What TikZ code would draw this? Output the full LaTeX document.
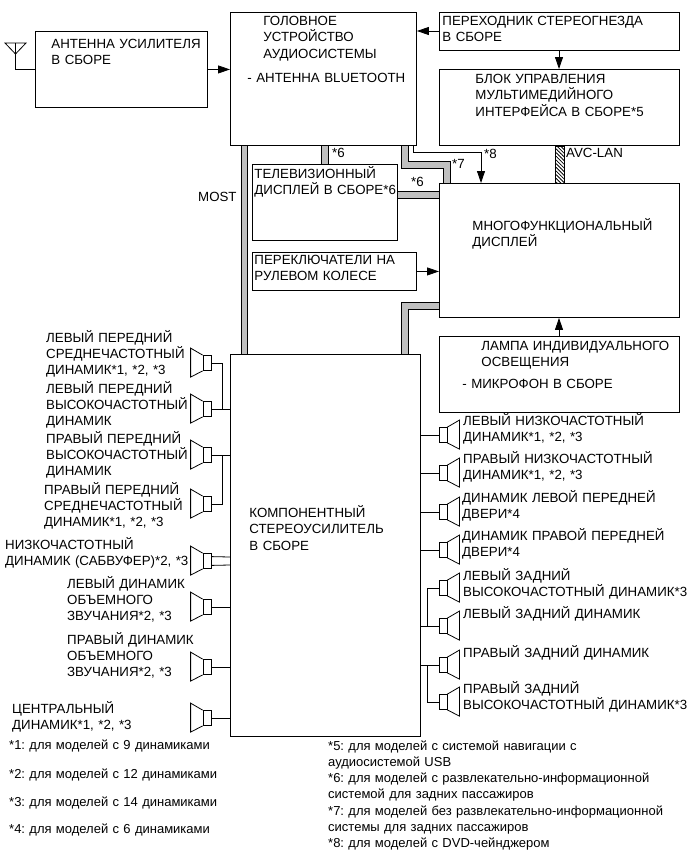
\documentclass[tikz,border=0pt]{standalone}
\usepackage{fontspec}
\setmainfont{Liberation Sans}
\usepackage{tikz}
\usetikzlibrary{arrows.meta, patterns.meta}
\definecolor{BusGray}{HTML}{C0C0C0}
\frenchspacing

\begin{document}
\begin{tikzpicture}[
    x=1pt, y=-1pt,
    font=\fontsize{13.3}{16.4}\selectfont,
    panel/.style n args={4}{draw, line width=0.9pt, anchor=north west, inner sep=0pt, text width=#1pt, text height=#3pt, text depth=#2pt-#3pt, align=left, execute at begin node={\leftskip=#4pt\relax}},
    lbl/.style={anchor=base west, inner sep=0pt, text width=#1pt, align=left},
    note/.style={lbl=#1, font=\fontsize{13}{16.25}\selectfont},
    magnet/.style={draw, line width=0.8pt, minimum width=8pt, minimum height=15pt, inner sep=0pt},
    wire/.style={line width=0.8pt},
    arrow/.style={wire, -{Triangle[length=12pt, width=8pt]}},
    bus/.style={line width=1pt, double=BusGray, double distance=5.5pt},
    avc/.style={draw, line width=0.8pt, pattern={Lines[angle=-45, distance=2.6pt, line width=0.8pt]}}
]
\useasboundingbox (0,0) rectangle (690,854);

% units
\node[panel={172}{76}{17}{16}] (ant) at (35,31) {АНТЕННА УСИЛИТЕЛЯ\\В СБОРЕ};
\node[panel={186}{133}{13}{33}] (head) at (230,12) {ГОЛОВНОЕ\\УСТРОЙСТВО\\АУДИОСИСТЕМЫ\\[8pt]\hspace*{-16pt}- АНТЕННА BLUETOOTH};
\node[panel={240}{38}{13}{3}] (plug) at (439,12) {ПЕРЕХОДНИК СТЕРЕОГНЕЗДА\\В СБОРЕ};
\node[panel={240}{76}{14}{36}] (mmi) at (439,69) {БЛОК УПРАВЛЕНИЯ\\МУЛЬТИМЕДИЙНОГО\\ИНТЕРФЕЙСА В СБОРЕ*5};
\node[panel={145}{76}{14}{2}] (tv) at (252,164) {ТЕЛЕВИЗИОННЫЙ\\ДИСПЛЕЙ В СБОРЕ*6};
\node[panel={164}{38}{12}{2}] (wheel) at (252,252) {ПЕРЕКЛЮЧАТЕЛИ НА\\РУЛЕВОМ КОЛЕСЕ};
\node[panel={240}{134}{47}{33}] (mfd) at (439,183) {МНОГОФУНКЦИОНАЛЬНЫЙ\\ДИСПЛЕЙ};
\node[panel={240}{76}{14}{42}] (lamp) at (439,336) {ЛАМПА ИНДИВИДУАЛЬНОГО\\ОСВЕЩЕНИЯ\\[5pt]\hspace*{-19pt}- МИКРОФОН В СБОРЕ};
\node[panel={190}{382}{163}{19}] (amp) at (230,354) {КОМПОНЕНТНЫЙ\\СТЕРЕОУСИЛИТЕЛЬ\\В СБОРЕ};

% antenna
\node[draw, wire, minimum size=0pt, inner sep=0pt] (mast) at (15.5,43) {};
\draw[wire] (5,43) -- (26,43) -- (15.5,54) -- cycle;
\draw[wire] (mast) |- (ant.west);

% signal lines
\draw[arrow] (ant.east) -- (head.west |- ant.east);
\coordinate (plugy) at (0,31);
\draw[arrow] (plug.west |- plugy) -- (head.east |- plugy);
\coordinate (midx) at (559,0);
\draw[arrow] (midx |- plug.south) -- (midx |- mmi.north);
\draw[arrow] (wheel.east) -- (mfd.west |- wheel.east);
\draw[arrow] (midx |- lamp.north) -- (midx |- mfd.south);
\coordinate (dvdx) at (413,0);
\coordinate (dvdy) at (0,152);
\coordinate (dvdz) at (481,0);
\draw[arrow] (dvdx |- head.south) |- (dvdz |- dvdy) -- (dvdz |- mfd.north);

% data buses
\coordinate (mostx) at (244.5,0);
\coordinate (tvx) at (325,0);
\coordinate (busx) at (405,0);
\coordinate (sevx) at (447,0);
\coordinate (sevy) at (0,165);
\coordinate (tvy) at (0,195);
\coordinate (lowy) at (0,306);
\draw[bus] (mostx |- head.south) -- (mostx |- amp.north);
\draw[bus] (tvx |- head.south) -- (tvx |- tv.north);
\draw[bus] (busx |- head.south) |- (sevx |- sevy) -- (sevx |- mfd.north);
\draw[bus] (tv.east |- tvy) -- (mfd.west |- tvy);
\draw[bus] (mfd.west |- lowy) -| (busx |- amp.north);
\coordinate (avcl) at (555.5,0);
\coordinate (avcr) at (564.5,0);
\path[avc] (avcl |- mmi.south) rectangle (avcr |- mfd.north);

% speakers on the left of the amplifier
\foreach \n/\y in {sa/363,sb/409,sc/455,sd/504,se/561,sf/607,sg/667,sh/718}{
  \node[magnet] (\n) at (207,\y) {};
  \draw[wire] (\n.north west) -- ++(-12,-7) -- ++(0,29) -- (\n.south west);
}
% speakers on the right of the amplifier
\foreach \n/\y in {ra/435,rb/473,rc/512,rd/550,re/588,rf/626,rg/665,rh/702}{
  \node[magnet] (\n) at (443,\y) {};
  \draw[wire] (\n.north east) -- ++(12,-7) -- ++(0,29) -- (\n.south east);
}

% speaker wiring
\coordinate (lfeed) at (222,0);
\coordinate (rfeed) at (427,0);
\draw[wire] (sa.east) -| (lfeed |- sb.east);
\draw[wire] (sd.east) -| (lfeed |- sc.east);
\foreach \n in {sb,sc,sf,sg,sh}{\draw[wire] (\n.east) -- (amp.west |- \n.east);}
\draw[wire] (se.north east) ++(0,3.5) -- (amp.west |- 0,557);
\draw[wire] (se.south east) ++(0,-3.5) -- (amp.west |- 0,565);
\foreach \n in {ra,rb,rc,rd,rf,rg}{\draw[wire] (\n.west) -- (amp.east |- \n.west);}
\draw[wire] (re.west) -| (rfeed |- rf.west);
\draw[wire] (rh.west) -| (rfeed |- rg.west);

% bus and line tags
\node[lbl=40] (most) at (198,201.5) {MOST};
\node[lbl=20] (tagsixa) at (332,157) {*6};
\node[lbl=20] (tagsixb) at (411,186) {*6};
\node[lbl=20] (tagsev) at (452,168) {*7};
\node[lbl=20] (tageig) at (484,158) {*8};
\node[lbl=70] (avclan) at (566,157) {AVC-LAN};

% speaker names
\node[lbl=148] (la) at (46,342) {ЛЕВЫЙ ПЕРЕДНИЙ\\СРЕДНЕЧАСТОТНЫЙ\\ДИНАМИК*1, *2, *3};
\node[lbl=148] (lb) at (46,393) {ЛЕВЫЙ ПЕРЕДНИЙ\\ВЫСОКОЧАСТОТНЫЙ\\ДИНАМИК};
\node[lbl=148] (lc) at (46,443) {ПРАВЫЙ ПЕРЕДНИЙ\\ВЫСОКОЧАСТОТНЫЙ\\ДИНАМИК};
\node[lbl=148] (ld) at (44,494) {ПРАВЫЙ ПЕРЕДНИЙ\\СРЕДНЕЧАСТОТНЫЙ\\ДИНАМИК*1, *2, *3};
\node[lbl=188] (le) at (5,549) {НИЗКОЧАСТОТНЫЙ\\ДИНАМИК (САБВУФЕР)*2, *3};
\node[lbl=130] (lf) at (67,588) {ЛЕВЫЙ ДИНАМИК\\ОБЪЕМНОГО\\ЗВУЧАНИЯ*2, *3};
\node[lbl=130] (lg) at (67,644) {ПРАВЫЙ ДИНАМИК\\ОБЪЕМНОГО\\ЗВУЧАНИЯ*2, *3};
\node[lbl=130] (lh) at (12,713) {ЦЕНТРАЛЬНЫЙ\\ДИНАМИК*1, *2, *3};
\node[lbl=222] (na) at (463,425) {ЛЕВЫЙ НИЗКОЧАСТОТНЫЙ\\ДИНАМИК*1, *2, *3};
\node[lbl=222] (nb) at (463,463) {ПРАВЫЙ НИЗКОЧАСТОТНЫЙ\\ДИНАМИК*1, *2, *3};
\node[lbl=222] (nc) at (462,502) {ДИНАМИК ЛЕВОЙ ПЕРЕДНЕЙ\\ДВЕРИ*4};
\node[lbl=222] (nd) at (462,540) {ДИНАМИК ПРАВОЙ ПЕРЕДНЕЙ\\ДВЕРИ*4};
\node[lbl=226] (ne) at (463,580) {ЛЕВЫЙ ЗАДНИЙ\\ВЫСОКОЧАСТОТНЫЙ ДИНАМИК*3};
\node[lbl=222] (nf) at (463,618) {ЛЕВЫЙ ЗАДНИЙ ДИНАМИК};
\node[lbl=222] (ng) at (463,657) {ПРАВЫЙ ЗАДНИЙ ДИНАМИК};
\node[lbl=226] (nh) at (463,693) {ПРАВЫЙ ЗАДНИЙ\\ВЫСОКОЧАСТОТНЫЙ ДИНАМИК*3};

% model notes
\node[note=220] (fa) at (9,749) {*1: для моделей с 9 динамиками};
\node[note=220] (fb) at (9,778) {*2: для моделей с 12 динамиками};
\node[note=220] (fc) at (9,806) {*3: для моделей с 14 динамиками};
\node[note=220] (fd) at (9,833) {*4: для моделей с 6 динамиками};
\node[note=358] (fe) at (328,750) {*5: для моделей с системой навигации с\\аудиосистемой USB\\{}*6: для моделей с развлекательно-информационной\\системой для задних пассажиров\\{}*7: для моделей без развлекательно-информационной\\системы для задних пассажиров\\{}*8: для моделей с DVD-чейнджером};

\end{tikzpicture}
\end{document}
